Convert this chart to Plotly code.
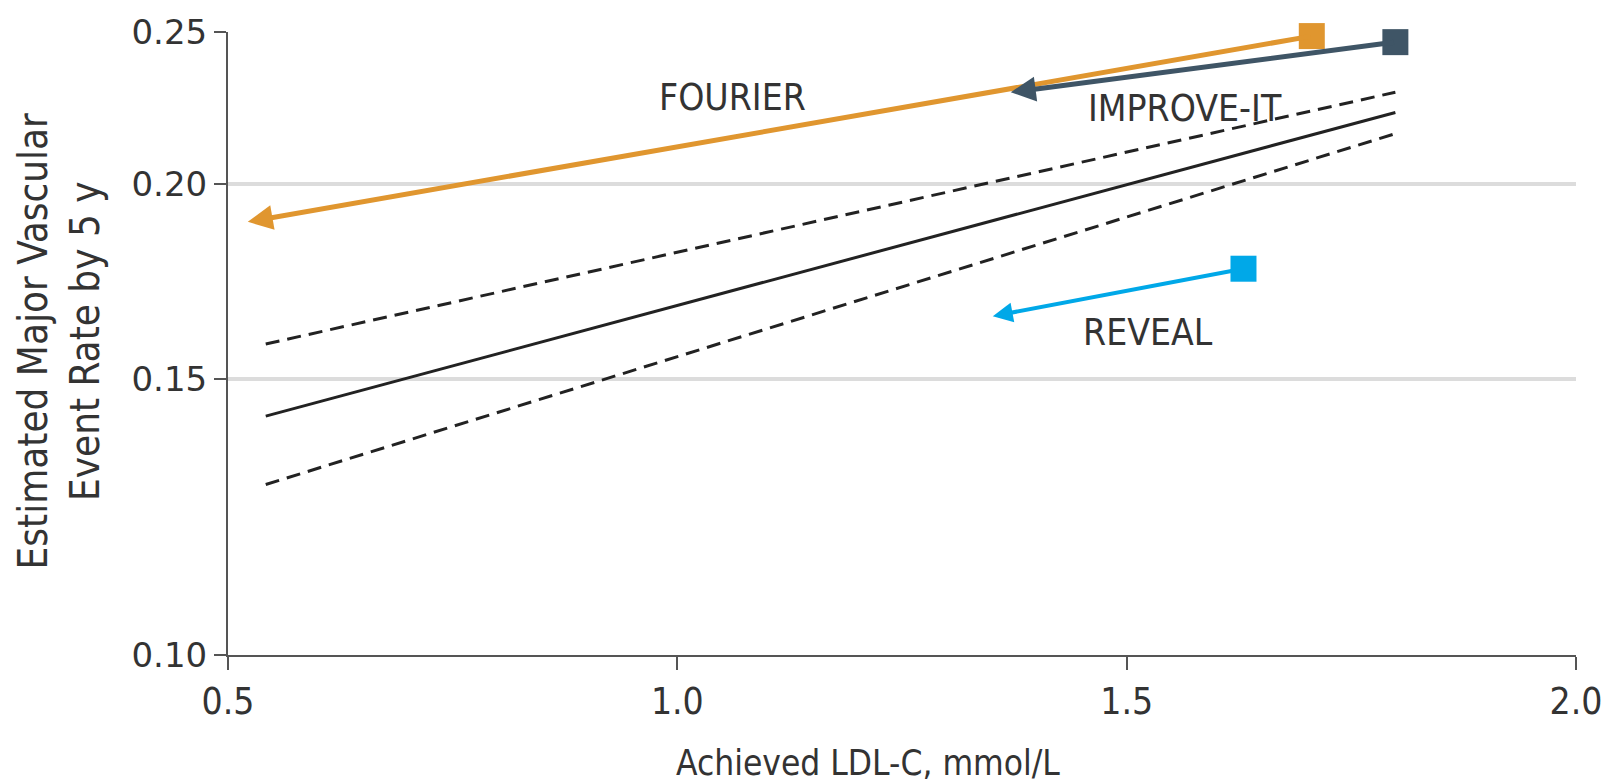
import numpy as np
import plotly.graph_objects as go

# Regression line and 95% CI (x = achieved LDL-C, y = event rate)
reg_x = [0.542, 1.799]
reg_y = [0.1421, 0.2221]
ci_upper_y = [0.1580, 0.2288]
ci_lower_y = [0.1285, 0.2153]

# Trials: start (control) -> end (treatment)
trials = ["FOURIER", "IMPROVE-IT", "REVEAL"]
start_x = [1.706, 1.799, 1.630]
start_y = [0.2485, 0.2463, 0.1765]
end_x = [0.522, 1.371, 1.351]
end_y = [0.1891, 0.2288, 0.1646]
label_x = [1.061, 1.565, 1.524]
label_y = [0.2270, 0.2233, 0.1607]
colors = ["#E0962F", "#3F5566", "#00A8E8"]
widths = [5, 5, 4]

yticks = [0.10, 0.15, 0.20, 0.25]
ytick_text = ["0.10", "0.15", "0.20", "0.25"]
xticks = [0.5, 1.0, 1.5, 2.0]
xtick_text = ["0.5", "1.0", "1.5", "2.0"]

COND = "DejaVu Sans Condensed, Liberation Sans Narrow, sans-serif"
TXT = "#333333"

W, H = 1614, 784
ml, mr, mt, mb = 228, 35, 30, 129
pw, ph = W - ml - mr, H - mt - mb

fig = go.Figure()

fig.add_trace(go.Scatter(x=reg_x, y=ci_upper_y, mode="lines",
                         line=dict(color="#222222", width=3, dash="14px,8px"),
                         showlegend=False, hoverinfo="skip"))
fig.add_trace(go.Scatter(x=reg_x, y=ci_lower_y, mode="lines",
                         line=dict(color="#222222", width=3, dash="14px,8px"),
                         showlegend=False, hoverinfo="skip"))
fig.add_trace(go.Scatter(x=reg_x, y=reg_y, mode="lines",
                         line=dict(color="#222222", width=3),
                         showlegend=False, hoverinfo="skip"))

annotations = []
for i, name in enumerate(trials):
    annotations.append(dict(
        x=end_x[i], y=np.log10(end_y[i]), xref="x", yref="y",
        ax=start_x[i], ay=np.log10(start_y[i]), axref="x", ayref="y",
        text="", showarrow=True, arrowhead=2, arrowsize=1.0,
        arrowwidth=widths[i], arrowcolor=colors[i], standoff=0, startstandoff=0))
    annotations.append(dict(
        x=label_x[i], y=np.log10(label_y[i]), xref="x", yref="y",
        text=name, showarrow=False,
        font=dict(family=COND, size=37, color=TXT)))

for i, name in enumerate(trials):
    fig.add_trace(go.Scatter(x=[start_x[i]], y=[start_y[i]], mode="markers",
                             marker=dict(symbol="square", size=26, color=colors[i]),
                             cliponaxis=False, showlegend=False, hoverinfo="skip"))

# axis titles (placed in pixel terms via paper coordinates)
annotations.append(dict(x=(869 - ml) / pw, xref="paper", y=(H - mb - 763) / ph, yref="paper",
                        xanchor="center", yanchor="middle",
                        text="Achieved LDL-C, mmol/L",
                        showarrow=False, font=dict(family=COND, size=35, color=TXT)))
annotations.append(dict(x=(59 - ml) / pw, xref="paper", y=(H - mb - 340) / ph, yref="paper",
                        xanchor="center", yanchor="middle",
                        text="Estimated Major Vascular<br>Event Rate by 5 y",
                        showarrow=False, textangle=-90,
                        font=dict(family=COND, size=40, color=TXT)))

fig.update_layout(
    width=W, height=H,
    margin=dict(l=ml, r=mr, t=mt, b=mb),
    plot_bgcolor="white", paper_bgcolor="white",
    annotations=annotations,
    showlegend=False,
)
fig.update_xaxes(range=[0.5, 2.0], tickvals=xticks, ticktext=xtick_text,
                 showgrid=False, zeroline=False,
                 showline=True, linecolor="#555555", linewidth=2,
                 ticks="outside", ticklen=13, tickcolor="#555555", tickwidth=1.5,
                 tickfont=dict(family=COND, size=37, color=TXT))
fig.update_yaxes(type="log", range=[np.log10(0.10), np.log10(0.25)],
                 tickvals=yticks, ticktext=ytick_text,
                 showgrid=True, gridcolor="#DCDCDC", gridwidth=4,
                 zeroline=False, showline=True, linecolor="#555555", linewidth=2,
                 ticks="outside", ticklen=12, tickcolor="#555555", tickwidth=1.5,
                 tickfont=dict(family="DejaVu Sans", size=34, color=TXT))

fig.write_html("out.html")
